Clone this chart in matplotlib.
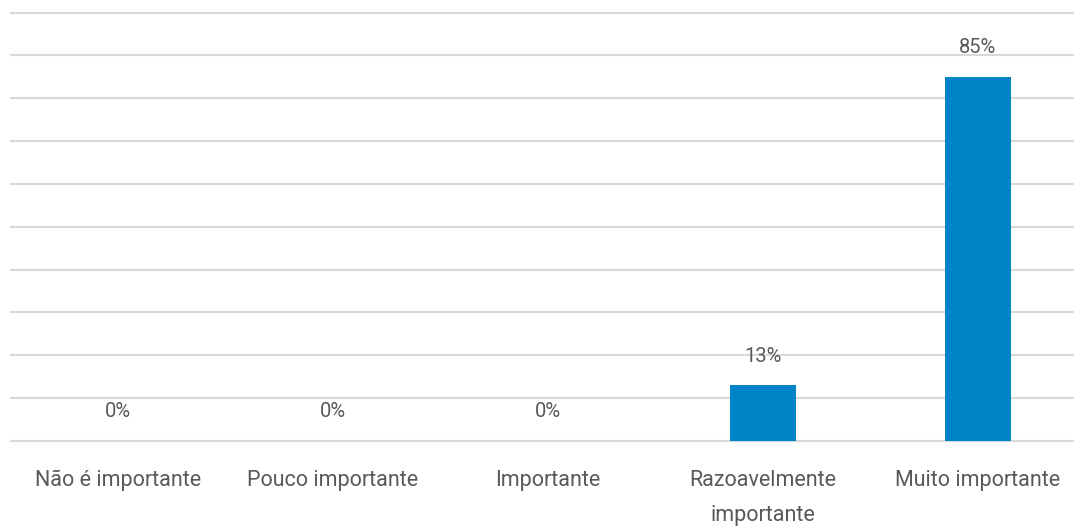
import matplotlib.pyplot as plt

categories = ["Não é importante", "Pouco importante", "Importante",
              "Razoavelmente\nimportante", "Muito importante"]
values = [0, 0, 0, 13, 85]

text_color = "#595959"
bar_color = "#0084C8"

plt.rcParams["font.family"] = ["Roboto", "DejaVu Sans"]

fig = plt.figure(figsize=(10.74, 5.30), dpi=100)
ax = fig.add_axes([10.5 / 1074, 89 / 530, 1 - 10.5 / 1074, (441 - 12.5) / 530])

x = list(range(len(categories)))
ax.bar(x, values, width=0.31, color=bar_color, zorder=3)

for xi, v in zip(x, values):
    ax.annotate(f"{v}%", (xi, v), xytext=(0, 21), textcoords="offset points",
                ha="center", va="center", fontsize=14.5, color=text_color)

ax.set_ylim(0, 100)
ax.set_xlim(-0.5, -0.5 + 1063.5 / 215)
ax.set_yticks(range(0, 101, 10))
ax.yaxis.grid(True, color="#d9d9d9", linewidth=1.5, zorder=0)
for gl in ax.get_ygridlines():
    gl.set_clip_on(False)
ax.set_axisbelow(True)
ax.tick_params(axis="y", left=False, labelleft=False)
ax.tick_params(axis="x", length=0, pad=21, labelsize=15.5, labelcolor=text_color)
ax.set_xticks(x)
ax.set_xticklabels(categories, linespacing=1.85)
for s in ax.spines.values():
    s.set_visible(False)

fig.savefig("out.png", dpi=100)
